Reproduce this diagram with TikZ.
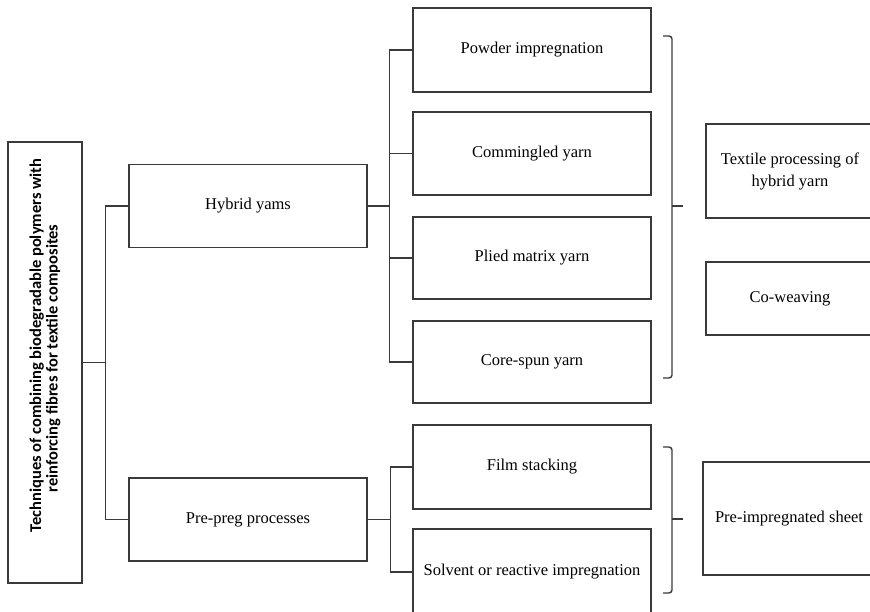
\documentclass[tikz,border=0pt]{standalone}
\usepackage{fontspec}
\setmainfont{Liberation Serif}
\newfontfamily\rootfont{Carlito}
\definecolor{linegray}{HTML}{3A3A3A}

\begin{document}
\begin{tikzpicture}[x=1pt,y=-1pt]
    \tikzset{box/.style = {shape=rectangle,draw=linegray,line width=1.4pt,inner sep=0pt,align=center,font=\fontsize{16.5}{22}\selectfont}}
    \tikzset{leaf/.style = {box,minimum width=238pt,minimum height=83pt}}
    \tikzset{result/.style = {box,minimum width=168pt}}
    \tikzset{rootbox/.style = {box,rotate=90,minimum width=441pt,minimum height=74pt,font=\rootfont\bfseries\fontsize{16.5}{16.5}\selectfont}}
    \tikzset{link/.style = {-,draw=linegray,line width=1.4pt}}
    \tikzset{brace/.style = {link,rounded corners=3pt}}

    \useasboundingbox (0,0) rectangle (870,612);
    \clip (0,0) rectangle (870,612);

    % vertices

    \node[rootbox] (root) at (45,362.5) {\hspace*{34pt}Techniques of combining biodegradable polymers with\\\hspace*{8pt}reinforcing fibres for textile composites};

    \node[leaf] (hyb) at (248,206) {Hybrid yams};
    \node[leaf] (pre) at (248,519.5) {Pre-preg processes};

    \node[leaf,minimum height=84pt] (pow) at (532,50) {Powder impregnation};
    \node[leaf] (com) at (532,153.5) {Commingled yarn};
    \node[leaf,minimum height=82pt] (pli) at (532,258) {Plied matrix yarn};
    \node[leaf,minimum height=82pt] (cor) at (532,362) {Core-spun yarn};
    \node[leaf,minimum height=84pt] (fil) at (532,467) {Film stacking};
    \node[leaf,minimum height=86pt] (sol) at (532,572) {Solvent or reactive impregnation};

    \node[result,minimum height=94pt] (tex) at (790,171) {Textile processing of\\hybrid yarn};
    \node[result,minimum height=73pt] (cow) at (790,298.5) {Co-weaving};
    \node[result,minimum width=172pt,minimum height=113pt] (pis) at (789,518.5) {Pre-impregnated sheet};

    % edges

    \draw[link] (root.south) -- ++(23,0) |- (hyb.west);
    \draw[link] (root.south) -- ++(23,0) |- (pre.west);
    \foreach \n in {pow,com,pli,cor}
        \draw[link] (hyb.east) -- ++(22,0) |- (\n.west);
    \foreach \n in {fil,sol}
        \draw[link] (pre.east) -- ++(23,0) |- (\n.west);

    % braces

    \draw[brace] (663,36) -| (672,378) -- (663,378);
    \draw[link] (672,206) -- (683,206);
    \draw[brace] (663,447) -| (672,593) -- (663,593);
    \draw[link] (672,519) -- (683,519);
\end{tikzpicture}
\end{document}
